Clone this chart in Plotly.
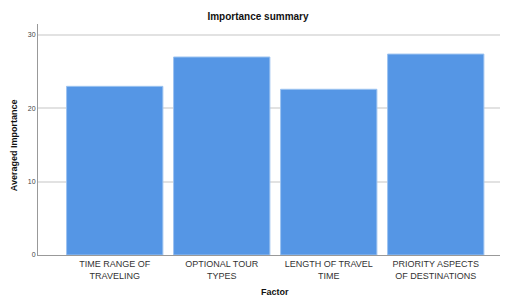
import plotly.graph_objects as go

categories = ["TIME RANGE OF<br>TRAVELING", "OPTIONAL TOUR<br>TYPES",
              "LENGTH OF TRAVEL<br>TIME", "PRIORITY ASPECTS<br>OF DESTINATIONS"]
importance = [23.0, 27.0, 22.6, 27.4]
y_ticks = [0, 10, 20, 30]

x_pos = list(range(len(categories)))

fig = go.Figure(go.Bar(
    x=x_pos, y=importance, width=0.9,
    marker=dict(color="#5596E5", line=dict(color="#9CC3F0", width=1)),
))

fig.update_layout(
    width=500, height=288,
    margin=dict(l=30, r=1, t=16, b=41),
    paper_bgcolor="white", plot_bgcolor="white",
    font=dict(family="Liberation Sans, Arial, sans-serif", color="#222"),
    showlegend=False,
    title=dict(text="<b>Importance summary</b>", x=0.5, xanchor="center",
               y=0.972, yanchor="middle", font=dict(size=10, color="#111")),
    annotations=[
        dict(text="<b>Factor</b>", xref="paper", yref="paper", x=0.505, y=-0.16,
             xanchor="center", yanchor="middle", showarrow=False,
             font=dict(size=9, color="#111")),
        dict(text="<b>Averaged Importance</b>", xref="paper", yref="paper", x=-0.051, y=0.476,
             xanchor="center", yanchor="middle", showarrow=False, textangle=-90,
             font=dict(size=9, color="#111")),
    ],
)
fig.update_xaxes(
    range=[-0.717, 3.666], tickmode="array", tickvals=x_pos, ticktext=categories,
    tickfont=dict(size=9, color="#333"), showline=True, linecolor="#999",
    linewidth=1, showgrid=False, ticks="", zeroline=False, automargin=False,
    ticklabelstandoff=0,
)
fig.update_yaxes(
    range=[0, 31.5], tickmode="array", tickvals=y_ticks,
    tickfont=dict(size=7, color="#444"), showline=True, linecolor="#999",
    linewidth=1, showgrid=True, gridcolor="#E2E2E2", gridwidth=1.5, ticks="",
    zeroline=False, automargin=False,
)

fig.write_html("out.html")
